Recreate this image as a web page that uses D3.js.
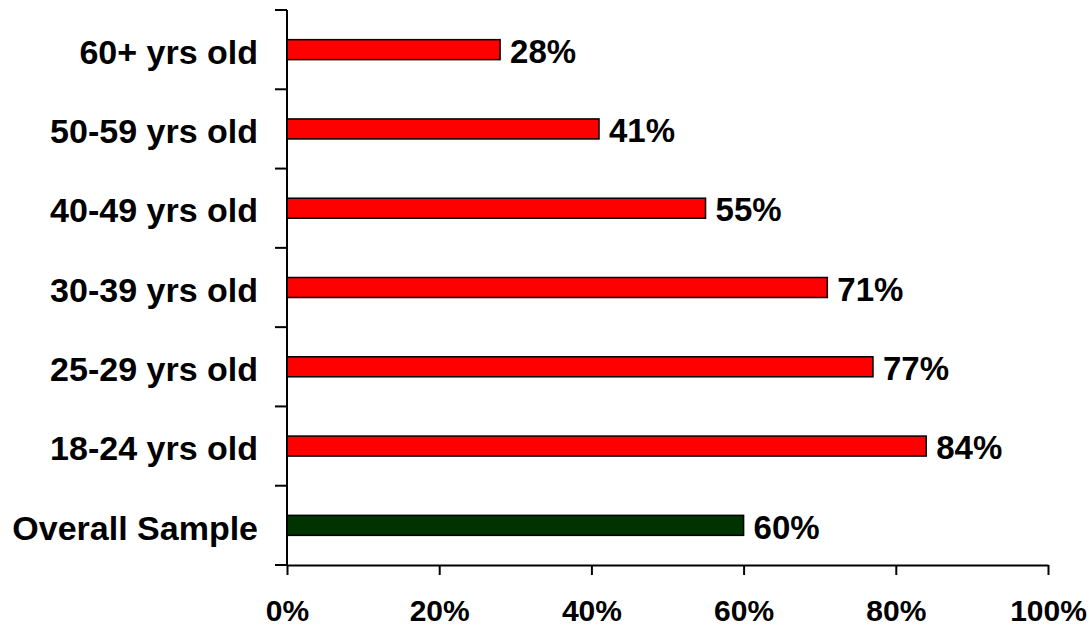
<!DOCTYPE html>
<html>
<head>
<meta charset="utf-8">
<script src="https://cdn.jsdelivr.net/npm/d3@7"></script>
<style>
  html, body { margin: 0; padding: 0; background: #fff; }
  svg text { font-family: "Liberation Sans", Arial, Helvetica, sans-serif; font-weight: bold; fill: #000; }
</style>
</head>
<body>
<svg id="chart" width="1091" height="626"></svg>
<script>
// Share of respondents by age group (top to bottom as drawn)
const categories = ["60+ yrs old", "50-59 yrs old", "40-49 yrs old", "30-39 yrs old", "25-29 yrs old", "18-24 yrs old", "Overall Sample"];
const values = [28, 41, 55, 71, 77, 84, 60];
const barColors = ["#ff0000", "#ff0000", "#ff0000", "#ff0000", "#ff0000", "#ff0000", "#003300"];
const xTicks = [0, 20, 40, 60, 80, 100];

const svg = d3.select("#chart");
const plot = { left: 287, right: 1048, top: 10, bottom: 565 };

const x = d3.scaleLinear().domain([0, 100]).range([plot.left, plot.right]);
const y = d3.scaleBand().domain(categories).range([plot.top, plot.bottom]).paddingInner(0).paddingOuter(0);
const barH = 20;

// Bars
svg.append("g").selectAll("rect")
  .data(categories)
  .join("rect")
  .attr("x", x(0))
  .attr("y", (d) => y(d) + y.bandwidth() / 2 - barH / 2)
  .attr("width", (d, i) => x(values[i]) - x(0))
  .attr("height", barH)
  .attr("fill", (d, i) => barColors[i])
  .attr("stroke", "#000")
  .attr("stroke-width", 1.5);

// Value labels
svg.append("g").selectAll("text")
  .data(categories)
  .join("text")
  .attr("x", (d, i) => x(values[i]) + 10)
  .attr("y", (d) => y(d) + y.bandwidth() / 2)
  .attr("dy", "0.4em")
  .style("font-size", "33px")
  .text((d, i) => values[i] + "%");

// Y axis: tick marks at band boundaries, labels centred on bands
const yAxisG = svg.append("g");
yAxisG.append("line")
  .attr("x1", plot.left).attr("x2", plot.left)
  .attr("y1", plot.top).attr("y2", plot.bottom)
  .attr("stroke", "#000").attr("stroke-width", 2);
const bounds = categories.map((d) => y(d)).concat([plot.bottom]);
yAxisG.selectAll("line.tick")
  .data(bounds)
  .join("line")
  .attr("class", "tick")
  .attr("x1", plot.left - 12).attr("x2", plot.left)
  .attr("y1", (d) => d).attr("y2", (d) => d)
  .attr("stroke", "#000").attr("stroke-width", 2);
yAxisG.selectAll("text")
  .data(categories)
  .join("text")
  .attr("x", 258)
  .attr("y", (d) => y(d) + y.bandwidth() / 2)
  .attr("dy", "0.42em")
  .attr("text-anchor", "end")
  .style("font-size", "34px")
  .text((d) => d);

// X axis
const xAxis = d3.axisBottom(x)
  .tickValues(xTicks)
  .tickFormat((d) => d + "%")
  .tickSize(10)
  .tickSizeOuter(0);
const xAxisG = svg.append("g")
  .attr("transform", `translate(0,${plot.bottom})`)
  .call(xAxis);
xAxisG.select(".domain").attr("stroke", "#000").attr("stroke-width", 2);
xAxisG.selectAll(".tick line").attr("stroke", "#000").attr("stroke-width", 2);
xAxisG.selectAll(".tick text")
  .attr("y", 35)
  .attr("dy", "0.71em")
  .style("font-size", "30px")
  .attr("font-family", null);
</script>
</body>
</html>
